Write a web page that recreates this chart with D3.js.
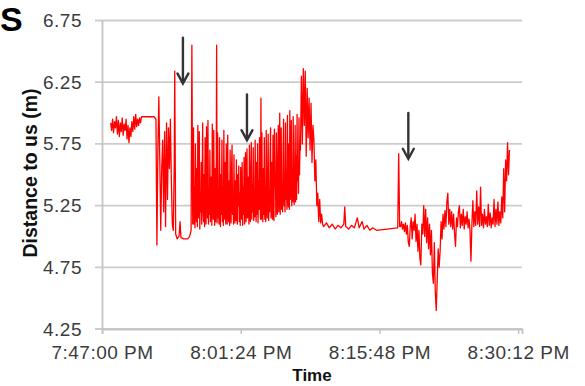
<!DOCTYPE html>
<html>
<head>
<meta charset="utf-8">
<script src="https://cdn.jsdelivr.net/npm/d3@7"></script>
<style>
  html, body { margin: 0; padding: 0; background: #fff; }
  svg { display: block; font-family: "Liberation Sans", Arial, sans-serif; }
</style>
</head>
<body>
<svg id="chart" width="585" height="386"></svg>
<script>
'use strict';

// y axis ticks (m)
var yTicks = [4.25, 4.75, 5.25, 5.75, 6.25, 6.75];
// x axis tick labels (clock time)
var xTickLabels = ['7:47:00 PM', '8:01:24 PM', '8:15:48 PM', '8:30:12 PM'];
// readings: [minutes after 7:47:00 PM, distance to us in m]
var readings = [
  [0.9, 5.92], [1.0, 5.86], [1.1, 5.95], [1.2, 5.84], [1.3, 5.93], [1.4, 5.88], [1.5, 5.97], [1.6, 5.83],
  [1.7, 5.94], [1.8, 5.81], [1.9, 5.92], [2.0, 5.85], [2.1, 5.96], [2.2, 5.82], [2.3, 5.91], [2.4, 5.86],
  [2.5, 5.95], [2.6, 5.79], [2.7, 5.90], [2.8, 5.76], [2.9, 5.88], [3.0, 5.81], [3.1, 5.93], [3.2, 5.85],
  [3.3, 5.97], [3.4, 5.87], [3.5, 5.99], [3.6, 5.89], [3.7, 5.95], [3.8, 5.90], [3.9, 5.96], [4.0, 5.92],
  [4.1, 5.97], [4.3, 5.97], [5.4, 5.97], [5.5, 5.96],
  [5.6, 5.95], [5.7, 4.93], [5.8, 5.70], [5.9, 6.13], [6.0, 5.62], [6.1, 5.05], [6.2, 5.55], [6.3, 5.78],
  [6.4, 5.20], [6.5, 5.85], [6.6, 5.08], [6.7, 5.92], [6.8, 5.30], [6.9, 5.88], [7.0, 5.55], [7.1, 5.95],
  [7.2, 5.45], [7.3, 5.10], [7.4, 5.05], [7.5, 5.60], [7.55, 6.34], [7.65, 5.02], [7.8, 4.98], [8.0, 5.00],
  [8.1, 5.12], [8.2, 4.99], [8.5, 4.98], [8.9, 4.98], [9.1, 5.00], [9.25, 5.05], [9.33, 6.55], [9.42, 5.10],
  [9.50, 5.88], [9.55, 5.10], [9.60, 5.40], [9.65, 5.07], [9.70, 5.75], [9.75, 5.25], [9.80, 5.12], [9.85, 5.55], [9.90, 5.08], [9.95, 5.90],
  [10.00, 5.30], [10.05, 5.15], [10.10, 5.85], [10.15, 5.06], [10.20, 5.35], [10.25, 5.20], [10.30, 5.60], [10.35, 5.10], [10.40, 5.45], [10.45, 5.92],
  [10.50, 5.20], [10.55, 5.12], [10.60, 5.50], [10.65, 5.08], [10.70, 5.80], [10.75, 5.28], [10.80, 5.10], [10.85, 5.89], [10.90, 5.45], [10.95, 5.15],
  [11.00, 5.94], [11.05, 5.10], [11.10, 5.38], [11.15, 5.18], [11.20, 5.70], [11.25, 5.12], [11.30, 5.30], [11.35, 5.48], [11.40, 5.09], [11.45, 5.91],
  [11.50, 5.25], [11.55, 5.14], [11.60, 5.86], [11.65, 5.22], [11.70, 5.09], [11.75, 5.55], [11.80, 5.12], [11.85, 5.35], [11.90, 6.55], [11.95, 5.11],
  [12.00, 5.84], [12.05, 5.15], [12.10, 5.35], [12.15, 5.10], [12.20, 5.80], [12.25, 5.25], [12.30, 5.08], [12.35, 5.50], [12.40, 5.18], [12.45, 5.78],
  [12.50, 5.12], [12.55, 5.40], [12.60, 5.09], [12.65, 5.86], [12.70, 5.22], [12.75, 5.14], [12.80, 5.60], [12.85, 5.10], [12.90, 5.75], [12.95, 5.30],
  [13.00, 5.10], [13.05, 5.82], [13.10, 5.20], [13.15, 5.12], [13.20, 5.45], [13.25, 5.09], [13.30, 5.70], [13.35, 5.28], [13.40, 5.11], [13.45, 5.55],
  [13.50, 5.74], [13.55, 5.18], [13.60, 5.30], [13.65, 5.10], [13.70, 5.66], [13.75, 5.22], [13.80, 5.11], [13.85, 5.45], [13.90, 5.13], [13.95, 5.62],
  [14.00, 5.18], [14.05, 5.10], [14.10, 5.50], [14.15, 5.25], [14.20, 5.57], [14.25, 5.12], [14.30, 5.35], [14.35, 5.09], [14.40, 5.56], [14.45, 5.25],
  [14.50, 5.14], [14.55, 5.60], [14.60, 5.09], [14.65, 5.40], [14.70, 5.18], [14.75, 5.64], [14.80, 5.10], [14.85, 5.35], [14.90, 5.68], [14.95, 5.12],
  [15.00, 5.30], [15.05, 5.71], [15.10, 5.15], [15.15, 5.20], [15.20, 5.48], [15.25, 5.10], [15.30, 5.74], [15.35, 5.25], [15.40, 5.12], [15.45, 5.55],
  [15.50, 5.76], [15.55, 5.14], [15.60, 5.42], [15.65, 5.20], [15.70, 5.72], [15.75, 5.13], [15.80, 5.38], [15.85, 5.16], [15.90, 5.78], [15.95, 5.25],
  [16.00, 5.12], [16.05, 5.60], [16.10, 5.18], [16.15, 5.75], [16.20, 5.11], [16.25, 5.45], [16.30, 5.22], [16.35, 5.80], [16.40, 5.30], [16.45, 5.14],
  [16.50, 6.12], [16.55, 5.14], [16.60, 5.84], [16.65, 5.22], [16.70, 5.12], [16.75, 5.55], [16.80, 5.18], [16.85, 5.80], [16.90, 5.14], [16.95, 5.40],
  [17.00, 5.12], [17.05, 5.86], [17.10, 5.25], [17.15, 5.15], [17.20, 5.45], [17.25, 5.83], [17.30, 5.13], [17.35, 5.35], [17.40, 5.20], [17.45, 5.65],
  [17.50, 5.88], [17.55, 5.15], [17.60, 5.28], [17.65, 5.60], [17.70, 5.14], [17.75, 5.82], [17.80, 5.22], [17.85, 5.13], [17.90, 5.87], [17.95, 5.40],
  [18.00, 5.50], [18.05, 5.16], [18.10, 5.84], [18.15, 5.25], [18.20, 5.18], [18.25, 5.62], [18.30, 5.90], [18.35, 5.20], [18.40, 5.35], [18.45, 6.00],
  [18.50, 5.18], [18.55, 5.45], [18.60, 5.88], [18.65, 5.22], [18.70, 5.35], [18.75, 5.20], [18.80, 5.70], [18.85, 5.95], [18.90, 5.25], [18.95, 5.40],
  [19.00, 5.20], [19.05, 5.92], [19.10, 5.30], [19.15, 5.50], [19.20, 5.22], [19.25, 5.98], [19.30, 5.35], [19.35, 5.24], [19.40, 5.75], [19.45, 5.22],
  [19.50, 6.02], [19.55, 5.30], [19.60, 5.45], [19.65, 5.94], [19.70, 5.25], [19.75, 5.55], [19.80, 5.28], [19.85, 5.97], [19.90, 5.38], [19.95, 5.26],
  [20.00, 5.40], [20.05, 5.90], [20.10, 5.28], [20.15, 5.65], [20.20, 5.30], [20.25, 5.99], [20.30, 5.45], [20.35, 5.55], [20.40, 5.35], [20.45, 5.96],
  [20.50, 5.50], [20.55, 5.70],
  [20.6, 5.70], [20.7, 6.30], [20.8, 5.75], [20.9, 6.36], [21.0, 5.90], [21.1, 6.34], [21.2, 5.65], [21.3, 6.20],
  [21.4, 5.80], [21.5, 6.12], [21.6, 5.70], [21.7, 6.08], [21.8, 5.60], [21.9, 5.90], [22.0, 5.78], [22.1, 5.45],
  [22.2, 5.62], [22.3, 5.25], [22.4, 5.35], [22.5, 5.12], [22.6, 5.30], [22.7, 5.11], [22.8, 5.18], [22.9, 5.10],
  [23.0, 5.08], [23.3, 5.11], [23.6, 5.07], [23.9, 5.10], [24.2, 5.06], [24.5, 5.09], [24.8, 5.07], [25.1, 5.10],
  [25.2, 5.24], [25.3, 5.08], [25.6, 5.06], [25.9, 5.09], [26.2, 5.07], [26.5, 5.15], [26.7, 5.07], [27.0, 5.12],
  [27.2, 5.06], [27.5, 5.09], [27.8, 5.05], [28.1, 5.07], [28.5, 5.05], [30.7, 5.07], [30.8, 5.67], [30.9, 5.08],
  [31.0, 5.08], [31.1, 5.12], [31.2, 5.06], [31.3, 5.10], [31.4, 5.04], [31.5, 5.11], [31.6, 5.02], [31.7, 5.09],
  [31.8, 4.95], [31.9, 4.92], [32.0, 5.08], [32.1, 5.15], [32.2, 4.98], [32.3, 5.12], [32.4, 5.05], [32.5, 5.18],
  [32.6, 4.96], [32.7, 5.10], [32.8, 4.88], [32.9, 5.05], [33.0, 4.82], [33.1, 4.77], [33.2, 5.10], [33.3, 5.02],
  [33.4, 5.25], [33.5, 5.00], [33.6, 5.22], [33.7, 4.95], [33.8, 5.15], [33.9, 4.90], [34.0, 5.10], [34.1, 4.85],
  [34.2, 5.05], [34.3, 4.70], [34.4, 4.62], [34.5, 4.95], [34.6, 4.55], [34.7, 4.40], [34.8, 4.65], [34.9, 4.90],
  [35.0, 4.75], [35.1, 4.88], [35.2, 5.12], [35.3, 4.98], [35.4, 5.18], [35.5, 5.06], [35.6, 5.21], [35.7, 5.08],
  [35.8, 5.28], [35.9, 5.35], [36.0, 5.10], [36.1, 5.22], [36.2, 5.08], [36.3, 5.20], [36.4, 5.06], [36.5, 5.18],
  [36.6, 5.02], [36.7, 4.92], [36.8, 5.15], [36.9, 5.08], [37.0, 5.20], [37.1, 5.25], [37.2, 5.07], [37.3, 5.18],
  [37.4, 5.09], [37.5, 5.22], [37.6, 5.06], [37.7, 5.16], [37.8, 5.10], [37.9, 5.20], [38.0, 5.07], [38.1, 5.14],
  [38.2, 5.05], [38.3, 4.80], [38.4, 5.10], [38.5, 5.29], [38.6, 5.08], [38.7, 5.20], [38.8, 5.09], [38.9, 5.37],
  [39.0, 5.10], [39.1, 5.24], [39.2, 5.08], [39.3, 5.40], [39.4, 5.09], [39.5, 5.18], [39.6, 5.07], [39.7, 5.22],
  [39.8, 5.10], [39.9, 5.16], [40.0, 5.08], [40.1, 5.26], [40.2, 5.09], [40.3, 5.19], [40.4, 5.07], [40.5, 5.15],
  [40.6, 5.10], [40.7, 5.30], [40.8, 5.08], [40.9, 5.22], [41.0, 5.10], [41.1, 5.28], [41.2, 5.09], [41.3, 5.20],
  [41.4, 5.11], [41.5, 5.32], [41.6, 5.15], [41.7, 5.55], [41.8, 5.20], [41.9, 5.62], [42.0, 5.45], [42.1, 5.76],
  [42.2, 5.50], [42.3, 5.70]
];
// annotation arrows: time (min), tip and tail distance (m)
var arrowTimes = [8.4, 15.05, 31.8];
var arrowTips = [6.24, 5.78, 5.63];
var arrowTails = [6.61, 6.15, 6.0];

var svg = d3.select('#chart');
var plotLeft = 102, plotRight = 522, plotTop = 20.5, plotBottom = 329;

var parseTime = d3.timeParse('%I:%M:%S %p');
var tickDates = xTickLabels.map(function (s) { return parseTime(s); });
var start = tickDates[0];
var atMin = function (m) { return new Date(start.getTime() + m * 60000); };

var x = d3.scaleTime().domain([start, atMin(43.6)]).range([plotLeft, plotRight]);
var y = d3.scaleLinear().domain([4.25, 6.75]).range([plotBottom, plotTop]);

// gridlines + y tick marks
svg.append('g').selectAll('line').data(yTicks).enter().append('line')
  .attr('x1', plotLeft - 7).attr('x2', plotRight)
  .attr('y1', function (d) { return y(d); }).attr('y2', function (d) { return y(d); })
  .attr('stroke', '#cccccc').attr('stroke-width', 1.8);

// y axis
var yAxis = d3.axisLeft(y).tickValues(yTicks).tickSize(0).tickPadding(20)
  .tickFormat(d3.format('.2f'));
var gy = svg.append('g').attr('transform', 'translate(' + plotLeft + ',0)').call(yAxis);
gy.select('.domain').attr('stroke', '#c4c4c4').attr('stroke-width', 1.8);
gy.selectAll('text').attr('font-size', 19).attr('letter-spacing', 0.5)
  .attr('fill', '#3c3c3c').attr('font-family', '"Liberation Sans", Arial, sans-serif');

// x axis
var xAxis = d3.axisBottom(x).tickValues(tickDates).tickSize(5).tickPadding(12)
  .tickFormat(function (d, i) { return xTickLabels[i]; });
var gx = svg.append('g').attr('transform', 'translate(0,' + plotBottom + ')').call(xAxis);
gx.select('.domain').attr('stroke', '#c4c4c4').attr('stroke-width', 1.8);
gx.selectAll('.tick line').attr('stroke', '#c4c4c4').attr('stroke-width', 1.5);
gx.selectAll('text').attr('font-size', 19).attr('letter-spacing', 0.5)
  .attr('fill', '#3c3c3c').attr('font-family', '"Liberation Sans", Arial, sans-serif');

// series
var line = d3.line()
  .x(function (d) { return x(atMin(d[0])); })
  .y(function (d) { return y(d[1]); });
svg.append('path').datum(readings)
  .attr('d', line)
  .attr('fill', 'none')
  .attr('stroke', '#ff0000')
  .attr('stroke-width', 1.3)
  .attr('stroke-linejoin', 'round');

// arrows
var arrows = svg.append('g').attr('stroke', '#333').attr('fill', 'none')
  .attr('stroke-width', 2.4).attr('stroke-linecap', 'round');
arrowTimes.forEach(function (t, i) {
  var ax = x(atMin(t)), tip = y(arrowTips[i]), tail = y(arrowTails[i]);
  arrows.append('line').attr('x1', ax).attr('x2', ax).attr('y1', tail).attr('y2', tip - 1);
  arrows.append('path').attr('d', 'M' + (ax - 5.5) + ',' + (tip - 10) + 'L' + ax + ',' + tip + 'L' + (ax + 5.5) + ',' + (tip - 10));
});

// titles
svg.append('text').attr('x', (plotLeft + plotRight) / 2).attr('y', 381)
  .attr('text-anchor', 'middle').attr('font-weight', 'bold').attr('font-size', 17)
  .attr('fill', '#111').text('Time');
svg.append('text').attr('transform', 'translate(37,173) rotate(-90)')
  .attr('text-anchor', 'middle').attr('font-weight', 'bold').attr('font-size', 19.5)
  .attr('fill', '#111').text('Distance to us (m)');
svg.append('text').attr('x', 0).attr('y', 31)
  .attr('font-weight', 'bold').attr('font-size', 34)
  .attr('fill', '#000').text('S');
</script>
</body>
</html>
